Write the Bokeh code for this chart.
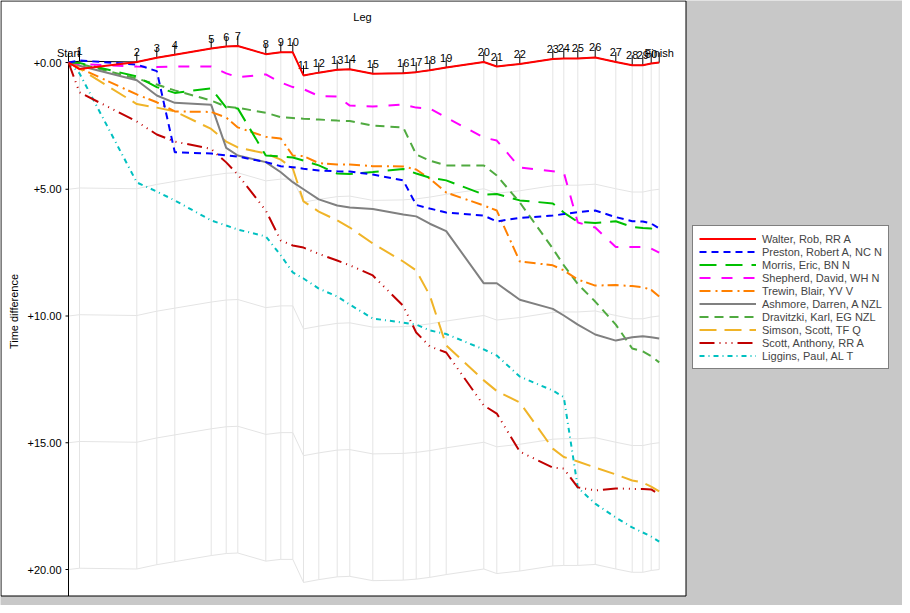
import numpy as np
from bokeh.plotting import figure
from bokeh.models import Range1d, Legend, LegendItem
from bokeh.embed import file_html
from bokeh.resources import INLINE
from bokeh.core.properties import value

# ---------------- data ----------------
legs = ["Start"] + [str(i) for i in range(1, 31)] + ["Finish"]
# cumulative reference time at each control (minutes)
leg_time = [0.00, 1.10, 6.83, 8.83, 10.63, 14.27, 15.77, 16.93, 19.73, 21.23,
            22.43, 23.50, 25.03, 26.87, 28.13, 30.43, 33.47, 34.77, 36.13, 37.77,
            41.53, 42.83, 45.13, 48.43, 49.53, 50.93, 52.67, 54.73, 56.37, 57.43,
            58.27, 59.07]
# best (leader) time difference at each control - gridlines follow it
leader = [0.00, -0.05, -0.02, -0.19, -0.31, -0.55, -0.63, -0.65, -0.33, -0.40,
          -0.40, 0.51, 0.40, 0.29, 0.27, 0.44, 0.42, 0.38, 0.31, 0.20,
          -0.02, 0.16, 0.06, -0.14, -0.16, -0.16, -0.20, -0.02, 0.11, 0.11,
          0.04, 0.00]

walter = [0.00, 0.26, -0.02, -0.19, -0.31, -0.55, -0.63, -0.65, -0.33, -0.40,
          -0.40, 0.51, 0.40, 0.29, 0.27, 0.44, 0.42, 0.38, 0.31, 0.20,
          -0.02, 0.16, 0.06, -0.14, -0.16, -0.16, -0.20, -0.02, 0.11, 0.11,
          0.04, 0.00]
preston = [0.00, -0.08, 0.08, 0.34, 3.54, 3.59, 3.67, 3.71, 3.93, 4.09,
           4.13, 4.19, 4.26, 4.29, 4.30, 4.42, 4.65, 5.62, 5.76, 5.92,
           6.04, 6.27, 6.13, 6.04, 5.98, 5.90, 5.84, 6.10, 6.26, 6.27,
           6.35, 6.55]
morris = [0.00, 0.02, 0.55, 0.97, 1.20, 1.02, 1.78, 1.81, 3.67, 3.71,
          3.75, 3.87, 4.06, 4.38, 4.40, 4.32, 4.20, 4.38, 4.54, 4.65,
          5.21, 5.19, 5.44, 5.56, 5.92, 6.29, 6.33, 6.26, 6.49, 6.53,
          6.55, 6.70]
shepherd = [0.00, 0.06, 0.16, 0.18, 0.16, 0.16, 0.43, 0.58, 0.47, 0.79,
            0.97, 1.05, 1.32, 1.34, 1.70, 1.74, 1.66, 1.78, 1.81, 2.17,
            2.96, 3.08, 4.14, 4.29, 4.34, 6.31, 6.51, 7.28, 7.28, 7.28,
            7.34, 7.50]
trewin = [0.00, 0.22, 1.26, 1.57, 1.93, 1.95, 2.17, 2.56, 2.93, 3.00,
          3.67, 3.69, 3.97, 4.02, 4.02, 4.09, 4.10, 4.22, 4.58, 5.13,
          5.64, 5.84, 7.85, 8.00, 8.20, 8.56, 8.80, 8.78, 8.82, 8.86,
          8.97, 9.23]
ashmore = [0.00, 0.13, 0.70, 1.30, 1.59, 1.67, 3.37, 3.67, 3.93, 4.33,
           4.72, 5.00, 5.40, 5.64, 5.72, 5.78, 6.00, 6.07, 6.36, 6.65,
           8.71, 8.71, 9.36, 9.72, 9.98, 10.34, 10.73, 10.97, 10.84, 10.80,
           10.84, 10.89]
dravitzki = [0.00, 0.05, 0.63, 0.87, 1.10, 1.50, 1.74, 1.79, 1.98, 2.16,
             2.19, 2.22, 2.25, 2.29, 2.31, 2.49, 2.56, 3.63, 3.87, 4.06,
             4.06, 4.46, 5.52, 7.34, 8.00, 8.74, 9.43, 10.34, 11.28, 11.40,
             11.58, 11.83]
simson = [0.00, 0.24, 1.64, 1.78, 1.93, 2.62, 3.12, 3.35, 3.59, 3.83,
          4.18, 5.48, 5.88, 6.23, 6.51, 7.14, 7.85, 8.20, 9.19, 11.16,
          12.54, 12.96, 13.41, 15.23, 15.56, 15.74, 15.98, 16.25, 16.49, 16.57,
          16.73, 16.92]
scott = [0.00, 1.18, 2.33, 2.84, 3.12, 3.41, 3.94, 4.42, 5.84, 7.02,
         7.22, 7.30, 7.55, 7.81, 8.00, 8.40, 9.60, 10.65, 11.20, 11.44,
         13.53, 13.85, 15.35, 15.98, 16.02, 16.76, 16.88, 16.80, 16.82, 16.82,
         16.84, 17.04]
liggins = [0.00, 0.43, 4.73, 5.09, 5.44, 6.23, 6.43, 6.59, 6.86, 7.61,
           8.28, 8.52, 8.92, 9.23, 9.55, 10.10, 10.26, 10.34, 10.57, 10.71,
           11.32, 11.56, 12.39, 12.94, 13.20, 16.77, 17.40, 17.95, 18.34, 18.54,
           18.70, 18.90]

runners = ["Walter, Rob, RR A", "Preston, Robert A, NC N", "Morris, Eric, BN N",
           "Shepherd, David, WH N", "Trewin, Blair, YV V", "Ashmore, Darren, A NZL",
           "Dravitzki, Karl, EG NZL", "Simson, Scott, TF Q", "Scott, Anthony, RR A",
           "Liggins, Paul, AL T"]
series = [walter, preston, morris, shepherd, trewin, ashmore, dravitzki, simson, scott, liggins]

y_ticks = [0, 5, 10, 15, 20]
y_tick_labels = ["+0.00", "+5.00", "+10.00", "+15.00", "+20.00"]
grid_steps = [5, 10, 15, 20]

# ---------------- styles ----------------
colors = ["#ff0000", "#0000ff", "#00c000", "#ff00ff", "#ff8000",
          "#808080", "#50aa40", "#f0b428", "#c00000", "#00c0c0"]
dashes = ["solid", "7 5", "17 9", "11 11", "11 5 2 4",
          "solid", "9 6", "17 8", "15 5 1 5 1 5 1 5", "5 4 1 4"]
FONT = value("Liberation Sans")
FS = "11px"

W, H = 902, 605            # whole canvas = plot frame
PANEL_W, PANEL_H = 686, 597  # white chart panel
PX_X, PX_Y = 10.0, 25.35   # pixels per minute / per unit of time difference
AX_X, AX_Y = 68.0, 62.0    # pixel position of the origin
X0 = -AX_X / PX_X
Y_TOP = -AX_Y / PX_Y
Y_BOT = Y_TOP + H / PX_Y


def px_x(px):
    return X0 + px / PX_X


def px_y(py):
    return Y_TOP + py / PX_Y


p = figure(width=W, height=H,
           x_range=Range1d(X0, X0 + W / PX_X),
           y_range=Range1d(Y_BOT, Y_TOP),
           output_backend="svg", toolbar_location=None,
           x_axis_location=None, y_axis_location=None,
           min_border=0, min_border_left=0, min_border_right=0,
           min_border_top=0, min_border_bottom=0,
           border_fill_color="#c8c8c8", background_fill_color="#c8c8c8",
           outline_line_color=None)
p.grid.visible = False

# white chart panel with black border
p.quad(left=[px_x(0.5)], right=[px_x(PANEL_W - 0.5)], top=[px_y(0.5)],
       bottom=[px_y(PANEL_H - 1.5)], fill_color="white", line_color="black", line_width=1)

xs = np.array(leg_time)
lead = np.array(leader)

# curved grid following the leader
p.segment(x0=xs, y0=lead, x1=xs, y1=lead + 20, line_color="#e4e4e4", line_width=1)
p.multi_line(xs=[xs] * len(grid_steps), ys=[lead + k for k in grid_steps],
             line_color="#e4e4e4", line_width=1)

# curved leg axis on top
p.line(xs, lead, line_color="black", line_width=1)
tick_len = 10.0 / PX_Y
p.segment(x0=xs, y0=lead, x1=xs, y1=lead - tick_len, line_color="black", line_width=1)
p.text(x=xs, y=lead - tick_len, text=legs, text_align="center", text_baseline="alphabetic",
       text_font=FONT, text_font_size=FS, text_color="black")

# y axis
p.segment(x0=[0], y0=[0], x1=[0], y1=[px_y(PANEL_H - 1.5)], line_color="black", line_width=1)
p.segment(x0=[-3.0 / PX_X] * len(y_ticks), y0=y_ticks, x1=[0] * len(y_ticks), y1=y_ticks,
          line_color="black", line_width=1)
p.text(x=[-7.0 / PX_X] * len(y_ticks), y=y_ticks, text=y_tick_labels,
       text_align="right", text_baseline="middle",
       text_font=FONT, text_font_size=FS, text_color="black")

# titles
p.text(x=[px_x(362)], y=[px_y(16)], text=["Leg"], text_align="center",
       text_baseline="alphabetic", text_font=FONT, text_font_size=FS, text_color="black")
p.text(x=[px_x(13)], y=[px_y(311)], text=["Time difference"], angle=np.pi / 2,
       text_align="center", text_baseline="middle",
       text_font=FONT, text_font_size=FS, text_color="black")

# runners (drawn in reverse so the first is on top)
renderers = {}
for i in reversed(range(len(series))):
    renderers[i] = p.line(xs, np.array(series[i]), line_color=colors[i],
                          line_width=2, line_dash=dashes[i])

items = [LegendItem(label=runners[i], renderers=[renderers[i]]) for i in range(len(series))]
legend = Legend(items=items, location=(692, H - 369), orientation="vertical",
                border_line_color="black", border_line_width=1,
                background_fill_color="white", background_fill_alpha=1.0,
                label_text_font="Liberation Sans", label_text_font_size=FS,
                glyph_width=57, glyph_height=13, label_height=13,
                spacing=0, padding=6, margin=0, label_standoff=6)
p.add_layout(legend)

open("out.html", "w").write(file_html(p, INLINE))
